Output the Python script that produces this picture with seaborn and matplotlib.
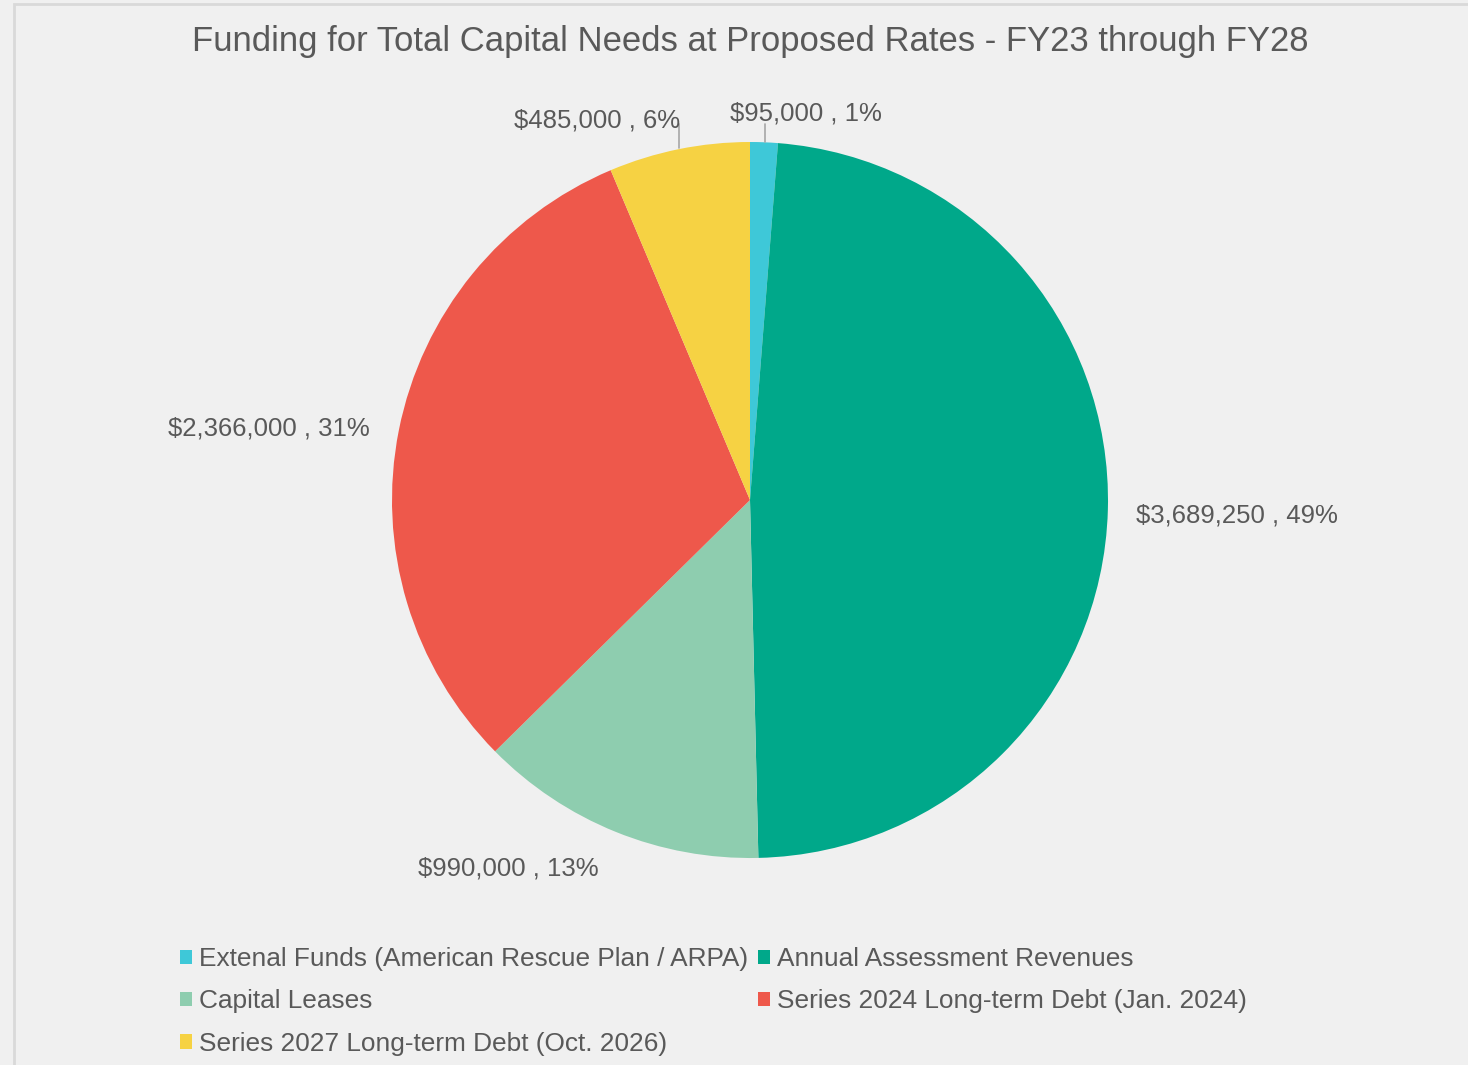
import matplotlib
matplotlib.use("Agg")
import matplotlib.pyplot as plt
from matplotlib.patches import Patch, Rectangle
import seaborn as sns

sns.set_style("white")
plt.rcParams['font.family'] = ['Liberation Sans', 'DejaVu Sans']

categories = [
    "Extenal Funds (American Rescue Plan / ARPA)",
    "Annual Assessment Revenues",
    "Capital Leases",
    "Series 2024 Long-term Debt (Jan. 2024)",
    "Series 2027 Long-term Debt (Oct. 2026)",
]
values = [95000, 3689250, 990000, 2366000, 485000]
value_labels = ["$95,000", "$3,689,250", "$990,000", "$2,366,000", "$485,000"]
percent_labels = ["1%", "49%", "13%", "31%", "6%"]
colors = ["#3EC8D8", "#00A88A", "#8ECDAF", "#EE584B", "#F6D243"]

TXT = "#595959"
BG = "#F0F0F0"

fig = plt.figure(figsize=(14.68, 10.65), dpi=100, facecolor=BG)
W, H = 1468, 1065
cx, cy, r = 750, 500, 358
ax = fig.add_axes([(cx - r) / W, (H - cy - r) / H, 2 * r / W, 2 * r / H])
ax.set_facecolor(BG)

wedges, _ = ax.pie(values, colors=colors, startangle=90, counterclock=False,
                   radius=1.0, wedgeprops=dict(linewidth=0))
ax.set_xlim(-1, 1)
ax.set_ylim(-1, 1)
ax.set_aspect('equal')
ax.axis('off')

# label layout (axis units, radius = 1)
label_pos = [(0.157, 1.080, 'center'), (1.078, -0.042, 'left'),
             (-0.676, -1.028, 'center'), (-1.061, 0.199, 'right'),
             (-0.427, 1.061, 'center')]
for vl, pl, (lx, ly, ha) in zip(value_labels, percent_labels, label_pos):
    ax.text(lx, ly, f"{vl} , {pl}", ha=ha, va='center', fontsize=18.5,
            color=TXT, clip_on=False)

# leader lines for the small slices
ax.plot([0.042, 0.042], [0.999, 1.05], color="#A6A6A6", lw=1.2, clip_on=False)
ax.plot([-0.198, -0.198], [0.982, 1.05], color="#A6A6A6", lw=1.2, clip_on=False)

fig.text(750 / W, 1 - 42 / H, "Funding for Total Capital Needs at Proposed Rates - FY23 through FY28",
         ha='center', va='center', fontsize=24.9, color=TXT)

# chart border
fig.patches.append(Rectangle((14 / W, -0.1), 1.2, 1 - 4 / H + 0.1, transform=fig.transFigure,
                             fill=False, edgecolor="#D9D9D9", lw=2))

order = [0, 2, 4, 1, 3]
handles = [Patch(facecolor=colors[i], edgecolor='none', label=categories[i]) for i in order]
leg = fig.legend(handles=handles, loc='upper left', bbox_to_anchor=(180 / W, 1 - 947 / H),
                 ncol=2, frameon=False, fontsize=18.9, handlelength=0.46, handleheight=0.46,
                 handletextpad=0.25, columnspacing=0.4, labelspacing=0.7, borderpad=0,
                 borderaxespad=0)
for t in leg.get_texts():
    t.set_color(TXT)

fig.savefig("out.png", dpi=100, facecolor=BG)
